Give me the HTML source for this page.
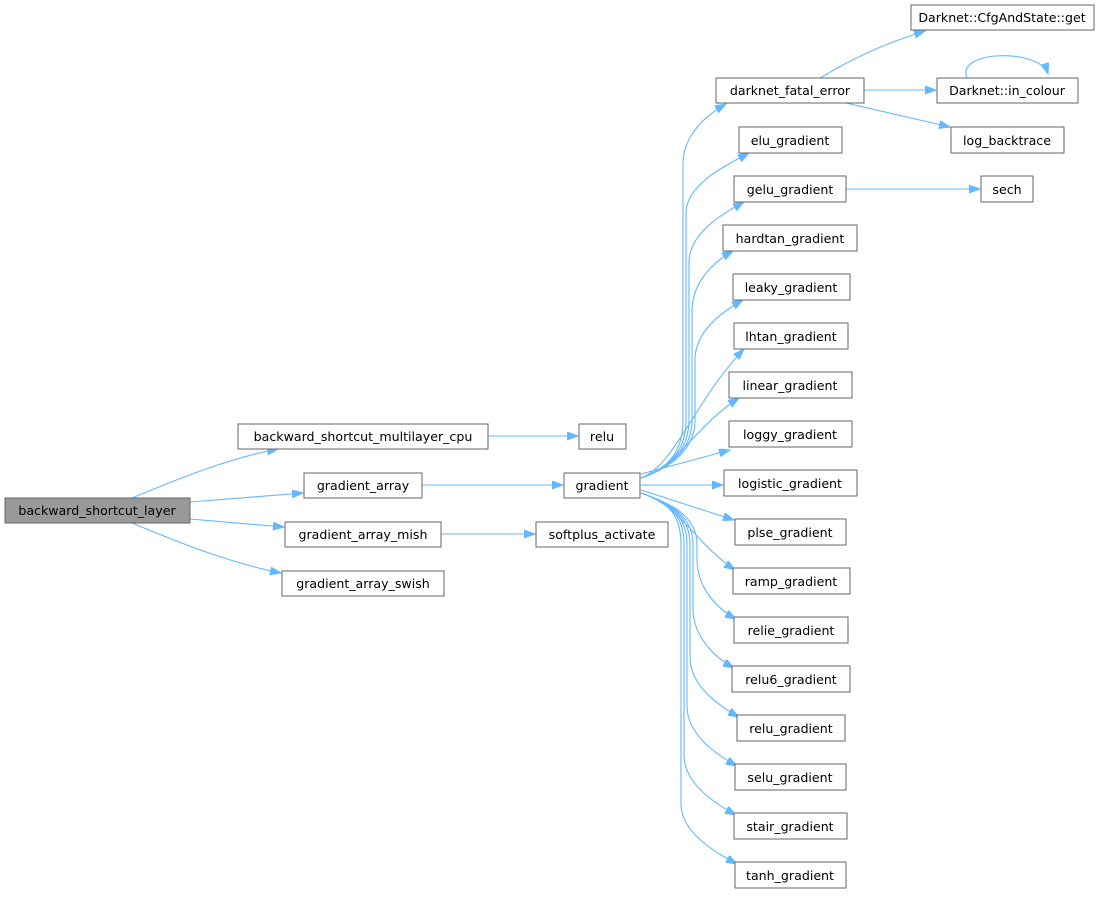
<!DOCTYPE html>
<html><head><meta charset="utf-8"><style>
html,body{margin:0;padding:0;background:#fff;}
svg{display:block}
text{font-family:"DejaVu Sans","Liberation Sans",sans-serif;font-size:12.6px;fill:#000;text-anchor:middle;}
rect{fill:#fff;stroke:#666;stroke-width:1}
path.e{fill:none;stroke:#63b8ff;stroke-width:1.1}
</style></head><body>
<svg width="1109" height="899" viewBox="0 0 1109 899" xmlns="http://www.w3.org/2000/svg">
<defs><marker id="a" markerUnits="userSpaceOnUse" markerWidth="13" markerHeight="10" refX="11" refY="4" orient="auto"><path d="M0,0 L11,4 L0,8 z" fill="#63b8ff" stroke="#63b8ff"/></marker></defs>
<g marker-end="url(#a)">
<path class="e" d="M132,498 C180,478 230,458 278,449"/>
<path class="e" d="M190,502 L303,493"/>
<path class="e" d="M190,519 L284,527"/>
<path class="e" d="M132,523 C180,543 230,563 281,573"/>
<path class="e" d="M488,436 L578,436"/>
<path class="e" d="M422,485 L563,485"/>
<path class="e" d="M441,534 L535,534"/>
<path class="e" d="M641,478 C670,468 683,450 683,420 L683,164 C683,134 708,114 726,104"/>
<path class="e" d="M641,478 C670,468 686,450 686,420 L686,213 C686,183 731,163 749,153"/>
<path class="e" d="M641,478 C670,468 689,450 689,420 L689,262 C689,232 726,212 744,202"/>
<path class="e" d="M641,478 C670,468 692,450 692,420 L692,311 C692,281 715,261 733,251"/>
<path class="e" d="M641,478 C670,468 695,450 695,420 L695,360 C695,330 725,310 743,300"/>
<path class="e" d="M641,478 C675,465 695,400 744,349"/>
<path class="e" d="M641,478 C680,465 695,426 739,398"/>
<path class="e" d="M641,474 L730,450"/>
<path class="e" d="M641,485 L723,485"/>
<path class="e" d="M641,490 L734,520"/>
<path class="e" d="M641,493 C680,505 695,543 735,570"/>
<path class="e" d="M641,493 C670,503 697,515 697,545 L697,559 C697,589 718,609 736,619"/>
<path class="e" d="M641,493 C670,503 693,515 693,545 L693,608 C693,638 716,658 734,668"/>
<path class="e" d="M641,493 C670,503 690,515 690,545 L690,657 C690,687 721,707 739,717"/>
<path class="e" d="M641,493 C670,503 687,515 687,545 L687,706 C687,736 719,756 737,766"/>
<path class="e" d="M641,493 C670,503 684,515 684,545 L684,755 C684,785 718,805 736,815"/>
<path class="e" d="M641,493 C670,503 681,515 681,545 L681,804 C681,834 719,854 737,864"/>
<path class="e" d="M820,78 C850,60 880,45 925,31"/>
<path class="e" d="M864,90 L936,90"/>
<path class="e" d="M846,103 L950,127"/>
<path class="e" d="M846,189 L980,189"/>
<path class="e" d="M967,78 C955,50 1040,48 1048,74"/>
</g>
<rect x="5" y="498" width="185" height="25" style="fill:#999"/><text x="97" y="515">backward_shortcut_layer</text>
<rect x="238" y="424" width="250" height="25"/><text x="363" y="441">backward_shortcut_multilayer_cpu</text>
<rect x="304" y="473" width="118" height="25"/><text x="363" y="490">gradient_array</text>
<rect x="285" y="522" width="156" height="25"/><text x="363" y="539">gradient_array_mish</text>
<rect x="282" y="571" width="162" height="25"/><text x="363" y="588">gradient_array_swish</text>
<rect x="579" y="424" width="47" height="25"/><text x="602" y="441">relu</text>
<rect x="564" y="473" width="76" height="25"/><text x="602" y="490">gradient</text>
<rect x="536" y="522" width="132" height="25"/><text x="602" y="539">softplus_activate</text>
<rect x="911" y="5" width="183" height="25"/><text x="1002" y="22">Darknet::CfgAndState::get</text>
<rect x="716" y="78" width="148" height="25"/><text x="790" y="95">darknet_fatal_error</text>
<rect x="937" y="78" width="141" height="25"/><text x="1007" y="95">Darknet::in_colour</text>
<rect x="951" y="127" width="113" height="26"/><text x="1007" y="145">log_backtrace</text>
<rect x="981" y="176" width="52" height="26"/><text x="1007" y="194">sech</text>
<rect x="739" y="127" width="103" height="26"/><text x="790" y="145">elu_gradient</text>
<rect x="734" y="176" width="112" height="26"/><text x="790" y="194">gelu_gradient</text>
<rect x="723" y="225" width="134" height="26"/><text x="790" y="243">hardtan_gradient</text>
<rect x="733" y="274" width="117" height="26"/><text x="791" y="292">leaky_gradient</text>
<rect x="734" y="323" width="114" height="26"/><text x="791" y="341">lhtan_gradient</text>
<rect x="729" y="372" width="123" height="26"/><text x="790" y="390">linear_gradient</text>
<rect x="729" y="421" width="123" height="26"/><text x="790" y="439">loggy_gradient</text>
<rect x="724" y="470" width="133" height="26"/><text x="790" y="488">logistic_gradient</text>
<rect x="735" y="519" width="111" height="26"/><text x="790" y="537">plse_gradient</text>
<rect x="733" y="568" width="117" height="26"/><text x="791" y="586">ramp_gradient</text>
<rect x="734" y="617" width="114" height="26"/><text x="791" y="635">relie_gradient</text>
<rect x="732" y="666" width="118" height="26"/><text x="791" y="684">relu6_gradient</text>
<rect x="737" y="715" width="108" height="26"/><text x="791" y="733">relu_gradient</text>
<rect x="735" y="764" width="111" height="26"/><text x="790" y="782">selu_gradient</text>
<rect x="734" y="813" width="113" height="26"/><text x="790" y="831">stair_gradient</text>
<rect x="735" y="862" width="111" height="26"/><text x="790" y="880">tanh_gradient</text>
</svg>
</body></html>
